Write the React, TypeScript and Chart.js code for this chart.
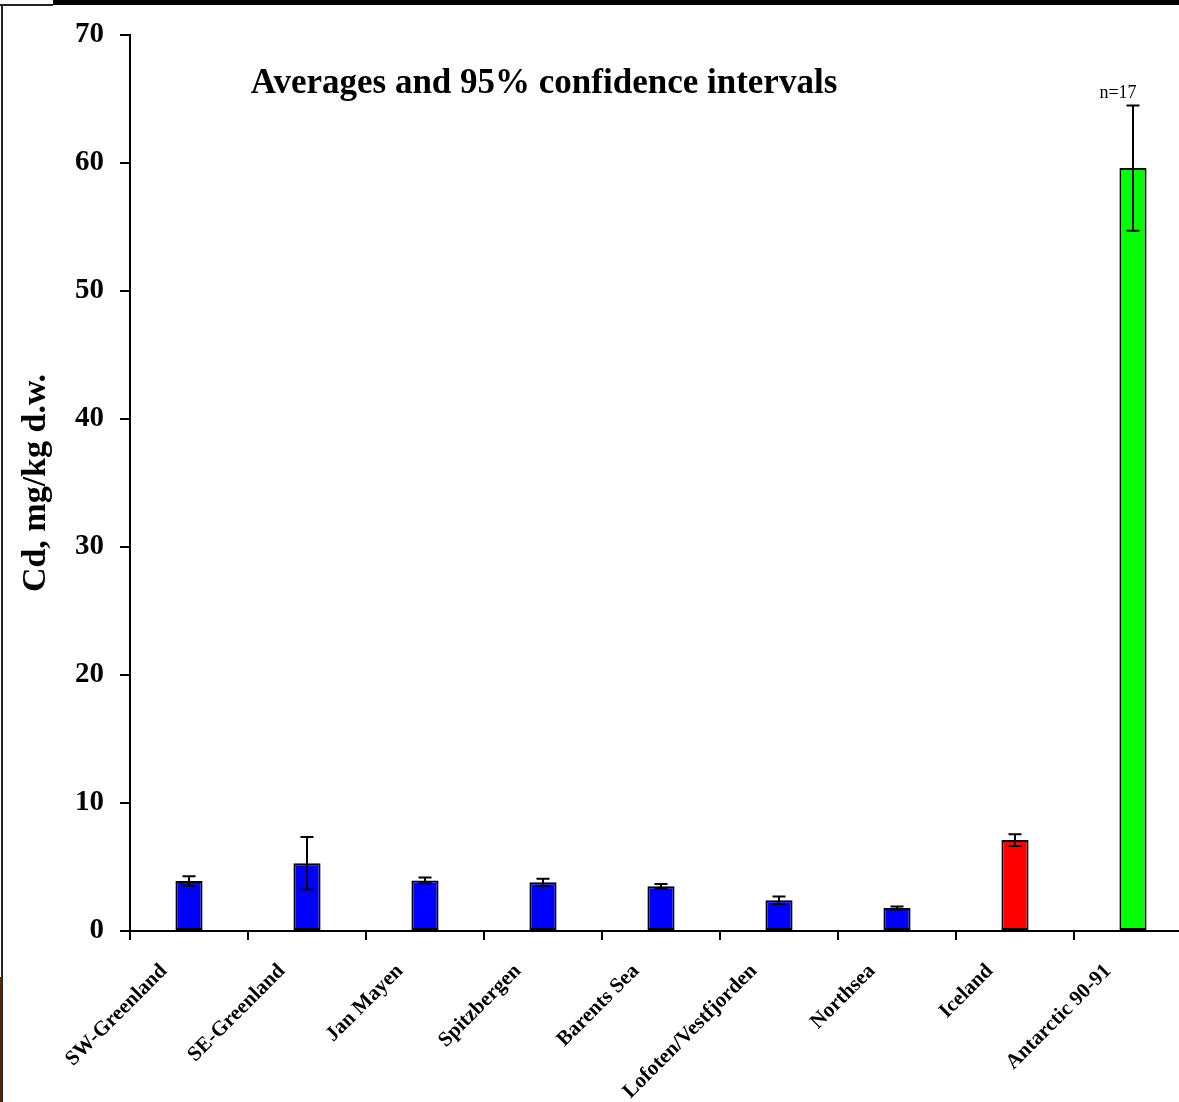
import React, { useEffect, useRef } from "react";
import { Chart, registerables } from "chart.js";

Chart.register(...registerables);

const categories = [
  "SW-Greenland",
  "SE-Greenland",
  "Jan Mayen",
  "Spitzbergen",
  "Barents Sea",
  "Lofoten/Vestfjorden",
  "Northsea",
  "Iceland",
  "Antarctic 90-91",
];
const averages = [3.9, 5.3, 3.95, 3.8, 3.5, 2.4, 1.8, 7.1, 59.6];
const ci95 = [0.38, 2.05, 0.22, 0.28, 0.18, 0.3, 0.12, 0.45, 4.9];
const barColors = ["#0000FF", "#0000FF", "#0000FF", "#0000FF", "#0000FF", "#0000FF", "#0000FF", "#FF0000", "#00FF00"];
const yTicks = [0, 10, 20, 30, 40, 50, 60, 70];
const titleText = "Averages and 95% confidence intervals";
const yAxisTitle = "Cd, mg/kg d.w.";
const noteIndex = 8;
const noteText = "n=17";

const SERIF = "'Liberation Serif', 'Times New Roman', serif";

const errorBarPlugin = {
  id: "errorBars",
  afterDatasetsDraw(chart: any) {
    const ctx = chart.ctx;
    const meta = chart.getDatasetMeta(0);
    const y = chart.scales.y;
    ctx.save();
    ctx.strokeStyle = "#000";
    ctx.lineWidth = 2;
    meta.data.forEach((bar: any, i: number) => {
      const hi = y.getPixelForValue(averages[i] + ci95[i]);
      const lo = y.getPixelForValue(averages[i] - ci95[i]);
      const x = bar.x;
      const cap = 6.5;
      ctx.beginPath();
      ctx.moveTo(x, hi);
      ctx.lineTo(x, lo);
      ctx.moveTo(x - cap, hi);
      ctx.lineTo(x + cap, hi);
      ctx.moveTo(x - cap, lo);
      ctx.lineTo(x + cap, lo);
      ctx.stroke();
    });
    // note above last bar
    const nb = meta.data[noteIndex];
    ctx.fillStyle = "#000";
    ctx.font = `18px ${SERIF}`;
    ctx.textAlign = "center";
    ctx.textBaseline = "bottom";
    ctx.fillText(noteText, nb.x - 15, y.getPixelForValue(averages[noteIndex] + ci95[noteIndex]) - 3);
    // title
    ctx.font = `bold 35px ${SERIF}`;
    ctx.textAlign = "center";
    ctx.textBaseline = "middle";
    ctx.fillText(titleText, 544, 84);
    ctx.restore();
  },
};

export default function App() {
  const ref = useRef<HTMLCanvasElement>(null);
  useEffect(() => {
    document.body.style.margin = "0";
    const chart = new Chart(ref.current!, {
      type: "bar",
      data: {
        labels: categories,
        datasets: [
          {
            data: averages,
            backgroundColor: barColors,
            borderColor: "#000",
            borderWidth: 2,
            borderSkipped: false,
            barPercentage: 0.23,
            categoryPercentage: 1,
          },
        ],
      },
      options: {
        responsive: false,
        animation: false,
        layout: { padding: { top: 35, right: 8, left: 0, bottom: 0 } },
        plugins: { legend: { display: false }, tooltip: { enabled: false }, title: { display: false } },
        scales: {
          x: {
            offset: true,
            grid: { drawOnChartArea: false, offset: true, tickLength: 9, color: "#000", lineWidth: 2 },
            border: { color: "#000", width: 2 },
            ticks: {
              autoSkip: false,
              maxRotation: 45,
              minRotation: 45,
              padding: 19,
              labelOffset: -25,
              color: "#000",
              font: { family: SERIF, size: 21, weight: "bold" },
            },
            afterFit(scale: any) {
              scale.height = 171;
            },
          },
          y: {
            min: 0,
            max: 70,
            afterBuildTicks(scale: any) {
              scale.ticks = yTicks.map((v) => ({ value: v }));
            },
            grid: { drawOnChartArea: false, tickLength: 10, color: "#000", lineWidth: 2 },
            border: { color: "#000", width: 2 },
            ticks: {
              padding: 16,
              color: "#000",
              font: { family: SERIF, size: 29, weight: "bold" },
            },
            title: {
              display: true,
              text: yAxisTitle,
              color: "#000",
              font: { family: SERIF, size: 34, weight: "bold" },
              padding: { top: 16, bottom: 0 },
            },
            afterFit(scale: any) {
              scale.width = 130;
            },
          },
        },
      },
      plugins: [errorBarPlugin],
    });
    return () => chart.destroy();
  }, []);

  return (
    <div style={{ position: "relative", width: 1179, height: 1102, overflow: "hidden", background: "#fff" }}>
      <canvas ref={ref} width={1200} height={1102} style={{ position: "absolute", left: 0, top: 0 }} />
      <div style={{ position: "absolute", left: 53, top: 0, width: 1126, height: 5, background: "#000" }} />
      <div style={{ position: "absolute", left: 0, top: 4, width: 53, height: 2, background: "#222" }} />
      <div style={{ position: "absolute", left: 1, top: 4, width: 2, height: 1098, background: "#222" }} />
      <div style={{ position: "absolute", left: 0, top: 977, width: 2, height: 125, background: "#5a2800" }} />
    </div>
  );
}
